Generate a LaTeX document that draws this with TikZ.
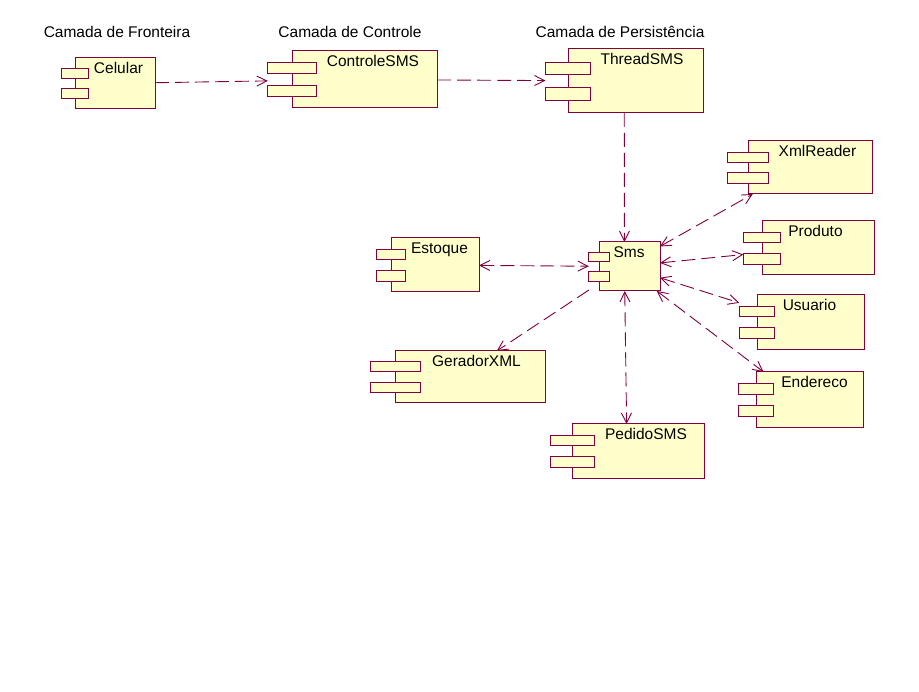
\documentclass[tikz,border=0pt]{standalone}
\usepackage{fontspec}
\setmainfont{Liberation Sans}
\usetikzlibrary{arrows.meta}

\definecolor{linha}{RGB}{128,0,64}
\definecolor{creme}{RGB}{255,255,204}

% componente: nome, esq, topo, dir, base (do corpo), x do texto, texto
\newcommand{\componente}[7]{%
  \pgfmathsetmacro{\compw}{#4-#2}%
  \pgfmathsetmacro{\comph}{#5-#3}%
  \node[caixa, anchor=north east, minimum width={\compw*7/6*1pt},
        minimum height={\comph*1pt}] (#1) at (#4,#3) {};
  \draw[corpo] (#2,#3) rectangle (#4,#5);
  \draw[corpo] ({#2-\compw/6},{#3+0.21*\comph}) rectangle ({#2+\compw/6},{#3+0.4*\comph});
  \draw[corpo] ({#2-\compw/6},{#3+0.6*\comph}) rectangle ({#2+\compw/6},{#3+0.8*\comph});
  \node[rotulo] (#1-txt) at (#6,{#3+16}) {#7};
}

\begin{document}
\begin{tikzpicture}[x=1pt,y=-1pt]
        \tikzstyle{caixa}=[rectangle, inner sep=0pt, outer sep=0pt]
        \tikzstyle{corpo}=[draw=linha, fill=creme, line width=1pt]
        \tikzstyle{rotulo}=[anchor=base, inner sep=0pt, font=\fontsize{15.5}{18}\selectfont]
        \tikzstyle{camada}=[anchor=base, inner sep=0pt, font=\fontsize{15.5}{18}\selectfont]
        \tikzstyle{dep}=[draw=linha, line width=0.9pt, dash pattern=on 14pt off 6pt,
          -{Straight Barb[length=10pt,width=10pt]}]
        \tikzstyle{dupla}=[dep, {Straight Barb[length=10pt,width=10pt]}-{Straight Barb[length=10pt,width=10pt]}]
        \fill[white] (0,0) rectangle (919,692);
        \useasboundingbox (0,0) rectangle (919,692);

        % camadas
        \node[camada] (fronteira) at (117,38) {Camada de Fronteira};
        \node[camada] (controle) at (350,38) {Camada de Controle};
        \node[camada] (persistencia) at (620,38) {Camada de Persistência};

        % componentes
        \componente{celular}{75}{58}{155}{109}{118.5}{Celular}
        \componente{controlesms}{292}{51}{437}{108}{373}{ControleSMS}
        \componente{threadsms}{568}{49}{703}{113}{642}{ThreadSMS}
        \componente{sms}{599}{242}{660}{291}{629}{Sms}
        \componente{estoque}{391}{238}{479}{292}{439.5}{Estoque}
        \componente{xmlreader}{748}{141}{872}{194}{817.5}{XmlReader}
        \componente{produto}{762}{221}{874}{275}{815.5}{Produto}
        \componente{usuario}{757}{295}{864}{350}{809.5}{Usuario}
        \componente{endereco}{756}{372}{863}{428}{814.5}{Endereco}
        \componente{pedidosms}{572}{424}{704}{479}{646}{PedidoSMS}
        \componente{geradorxml}{395}{351}{545}{403}{476.5}{GeradorXML}

        % dependencias
        \draw[dep] (celular) -- (controlesms);
        \draw[dep] (controlesms) -- (threadsms);
        \draw[dep] (threadsms) -- (sms);
        \draw[dupla] (estoque) -- (sms);
        \draw[dupla] (sms) -- (xmlreader);
        \draw[dupla] (sms) -- (produto);
        \draw[dupla] (sms) -- (usuario);
        \draw[dupla] (sms) -- (endereco);
        \draw[dupla] (sms) -- (pedidosms);
        \draw[dep] (sms) -- (geradorxml);
\end{tikzpicture}
\end{document}
